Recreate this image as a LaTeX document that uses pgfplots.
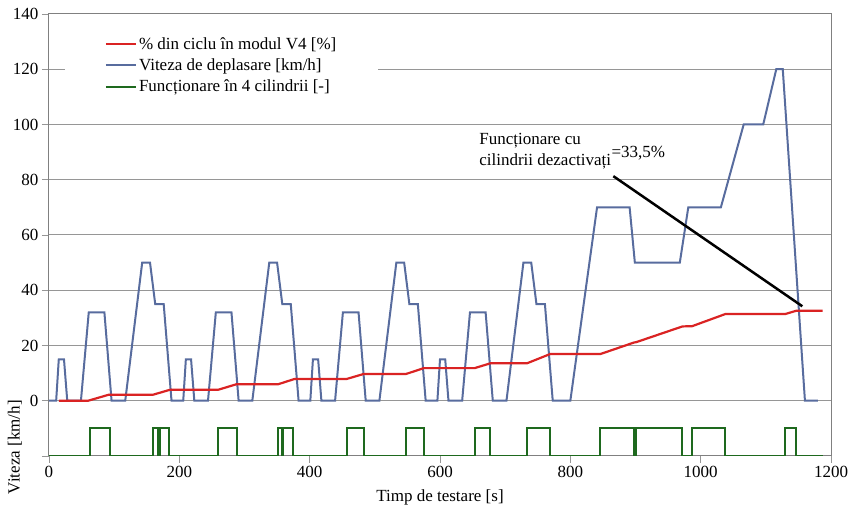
\documentclass[border=0pt]{standalone}
\usepackage{pgfplots}
\pgfplotsset{compat=1.18}
\usepackage{fontspec}
\setmainfont{Liberation Serif}
\definecolor{vblue}{RGB}{88,108,158}
\definecolor{vred}{RGB}{218,35,35}
\definecolor{vgreen}{RGB}{30,105,30}
\definecolor{vgrid}{RGB}{150,150,150}
\begin{document}
\begin{tikzpicture}[font=\fontsize{17}{20}\selectfont]
\begin{axis}[
  name=ax,
  scale only axis,
  width=782pt, height=442pt,
  xmin=0, xmax=1200, ymin=-20, ymax=140,
  xtick={0,200,...,1200},
  ytick={-20,0,20,...,140},
  yticklabels={,0,20,40,60,80,100,120,140},
  tick pos=left,
  tick align=outside,
  major tick length=7pt,
  tick style={vgrid, line width=0.8pt},
  ymajorgrids=true,
  grid style={vgrid, line width=1pt},
  axis line style={vgrid!85!black, line width=1pt},
  /pgf/number format/assume math mode=true,
  /pgf/number format/1000 sep={},
  xlabel={Timp de testare [s]},
  ylabel={Viteza [km/h]},
  xlabel style={at={(axis description cs:0.5,-0.093)}, anchor=center},
  ylabel style={at={(axis description cs:-0.0435,0.02)}, anchor=center},
  legend cell align=left,
  legend image code/.code={\draw[#1] (0pt,0pt) -- (30pt,0pt);},
  legend style={at={(axis description cs:0.02,0.97)}, anchor=north west,
    draw=none, fill=white, inner xsep=40pt, inner ysep=8pt,
    row sep=4pt, font=\fontsize{17}{20}\selectfont,
    /tikz/every even column/.append style={column sep=2pt}},
]
\addlegendimage{vred, line width=2.2pt}
\addlegendentry{\% din ciclu în modul V4 [\%]}
\addlegendimage{vblue, line width=2pt}
\addlegendentry{Viteza de deplasare [km/h]}
\addlegendimage{vgreen, line width=2pt}
\addlegendentry{ Funcționare în 4 cilindrii [-]}

% speed (NEDC)
\addplot[vblue, line width=2pt, forget plot] coordinates {
(0,0)(11,0)(15,15)(23,15)(28,0)(49,0)(61,32)(85,32)(96,0)(117,0)(143,50)(155,50)(163,35)(176,35)(188,0)(195,0)
(206,0)(210,15)(218,15)(223,0)(244,0)(256,32)(280,32)(291,0)(312,0)(338,50)(350,50)(358,35)(371,35)(383,0)(390,0)
(401,0)(405,15)(413,15)(418,0)(439,0)(451,32)(475,32)(486,0)(507,0)(533,50)(545,50)(553,35)(566,35)(578,0)(585,0)
(596,0)(600,15)(608,15)(613,0)(634,0)(646,32)(670,32)(681,0)(702,0)(728,50)(740,50)(748,35)(761,35)(773,0)(780,0)
(800,0)(841,70)(891,70)(899,50)(968,50)(981,70)(1031,70)(1066,100)(1096,100)(1116,120)(1126,120)(1160,0)(1180,0)
};

% % of cycle in V4 mode
\addplot[vred, line width=2.2pt, forget plot] coordinates {
(15,0)(60,0)(92,2.2)(160,2.2)(186,4.0)(260,4.0)(288,6.0)(352,6.0)(377,7.9)(457,7.9)(483,9.7)(548,9.7)(575,11.8)
(653,11.8)(678,13.6)(734,13.6)(769,16.9)(846,16.9)(898,21.1)(901,21.2)(972,26.9)(987,27.0)(1038,31.4)(1130,31.4)(1147,32.6)(1187,32.6)
};

% 4-cylinder operation
\addplot[vgreen, line width=2pt, forget plot] coordinates {
(0,-20)(63,-20)(63,-10)(93,-10)(93,-20)
(160,-20)(160,-10)(167,-10)(167,-20)(170,-20)(170,-10)(184,-10)(184,-20)
(260,-20)(260,-10)(288,-10)(288,-20)
(352,-20)(352,-10)(357,-10)(357,-20)(359,-20)(359,-10)(375,-10)(375,-20)
(457,-20)(457,-10)(483,-10)(483,-20)
(548,-20)(548,-10)(575,-10)(575,-20)
(653,-20)(653,-10)(677,-10)(677,-20)
(734,-20)(734,-10)(769,-10)(769,-20)
(846,-20)(846,-10)(898,-10)(898,-20)(900,-20)(900,-10)(972,-10)(972,-20)
(987,-20)(987,-10)(1038,-10)(1038,-20)
(1130,-20)(1130,-10)(1146,-10)(1146,-20)(1187,-20)
};

% annotation
\addplot[black, line width=2.5pt, forget plot] coordinates {(866,81.3)(1156,34.2)};
\node[anchor=north west, align=left, inner sep=0pt, font=\fontsize{17}{21}\selectfont]
  at (axis cs:660,97) {Funcționare cu\\cilindrii dezactivați};
\node[anchor=base west, inner sep=0pt] at (axis cs:863,88) {=33,5\%};
\end{axis}
\pgfresetboundingbox
\path[use as bounding box] ([shift={(-49pt,-52pt)}]ax.south west) rectangle ([shift={(24pt,14pt)}]ax.north east);
\end{tikzpicture}
\end{document}
